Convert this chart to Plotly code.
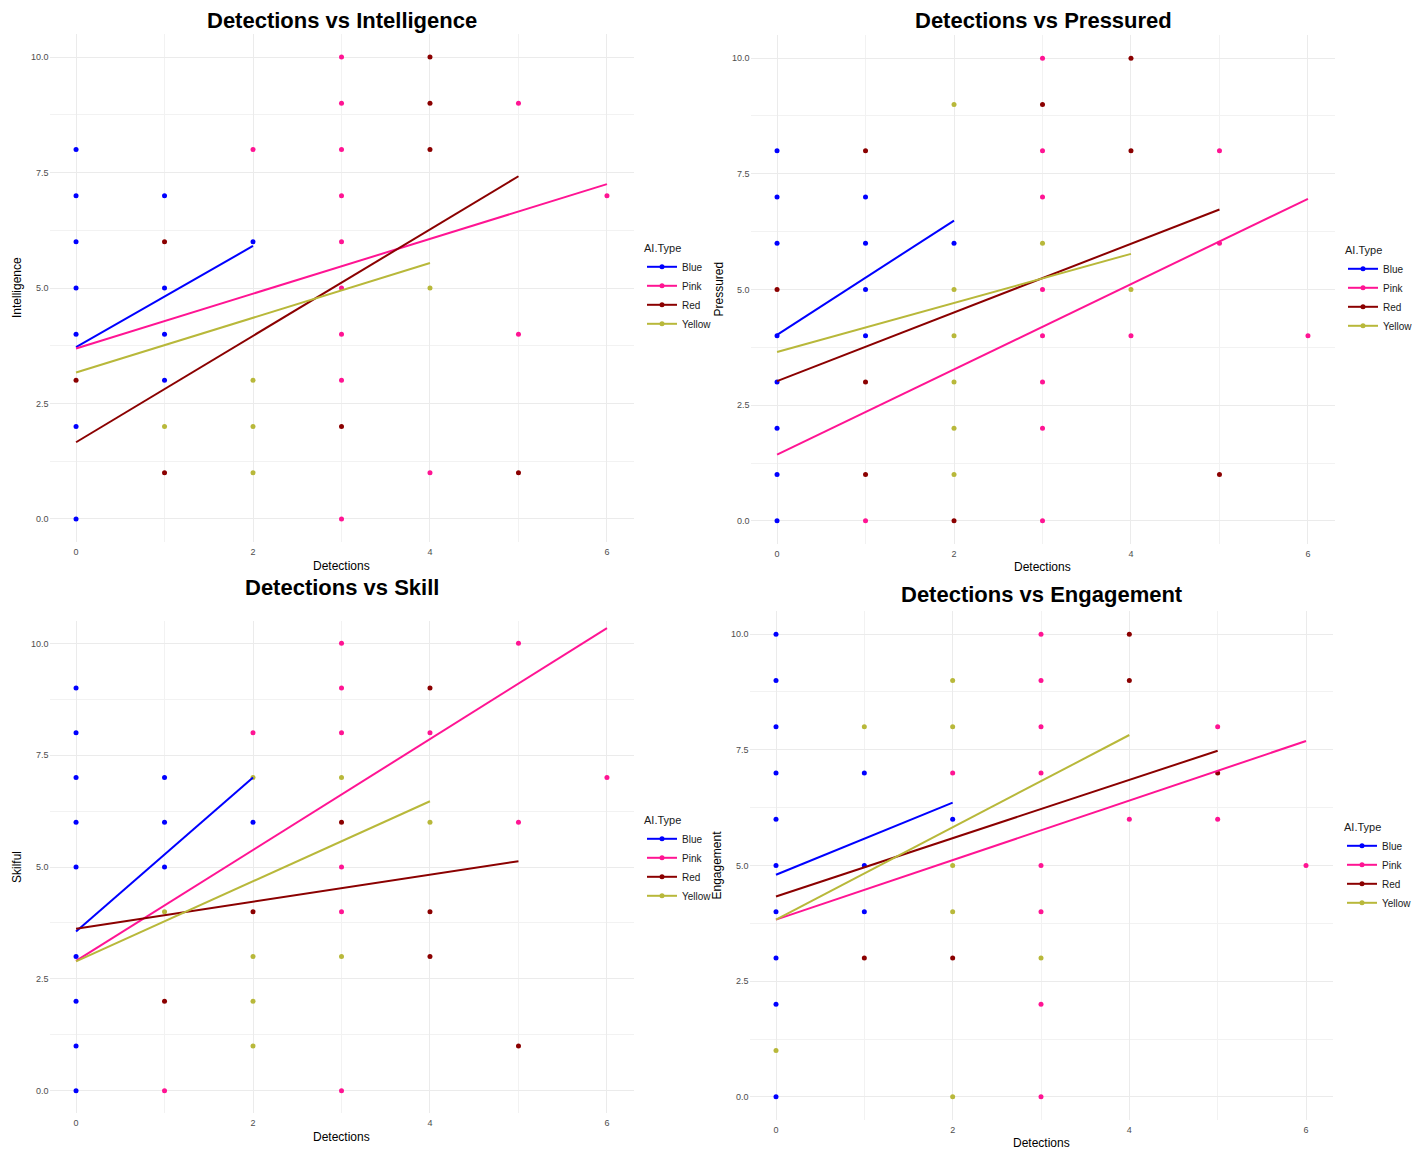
import plotly.graph_objects as go

GROUPS = ["Blue", "Pink", "Red", "Yellow"]
COLORS = {"Blue": "#0000FF", "Pink": "#FF1493", "Red": "#8B0000", "Yellow": "#B8B83A"}

# ---- Detections vs Intelligence ----
intel_x = [0,0,0,0,0,0,0,1,1,1,1,2,
           0,1,1,3,4,4,4,5,
           1,2,2,2,4,
           2,3,3,3,3,3,3,3,3,3,4,5,5,6]
intel_y = [8,7,6,5,4,2,0,7,5,4,3,6,
           3,6,1,2,10,9,8,1,
           2,3,2,1,5,
           8,10,9,8,7,6,5,4,3,0,1,9,4,7]
intel_type = ["Blue"]*12 + ["Red"]*8 + ["Yellow"]*5 + ["Pink"]*14

# ---- Detections vs Pressured ----
press_x = [0,0,0,0,0,0,0,0,1,1,1,1,2,
           0,1,1,1,2,3,4,4,5,
           2,2,2,2,2,2,3,4,
           1,3,3,3,3,3,3,3,3,4,5,5,6]
press_y = [8,7,6,4,3,2,1,0,7,6,5,4,6,
           5,8,3,1,0,9,10,8,1,
           9,5,4,3,2,1,6,5,
           0,10,8,7,5,4,3,2,0,4,8,6,4]
press_type = ["Blue"]*13 + ["Red"]*9 + ["Yellow"]*8 + ["Pink"]*13

# ---- Detections vs Skill ----
skill_x = [0,0,0,0,0,0,0,0,0,1,1,1,2,
           1,2,3,4,4,4,5,
           1,2,2,2,2,3,3,4,
           1,2,3,3,3,3,3,3,4,5,5,6]
skill_y = [9,8,7,6,5,3,2,1,0,7,6,5,6,
           2,4,6,9,4,3,1,
           4,7,3,2,1,7,3,6,
           0,8,10,9,8,5,4,0,8,10,6,7]
skill_type = ["Blue"]*13 + ["Red"]*7 + ["Yellow"]*8 + ["Pink"]*12

# ---- Detections vs Engagement ----
engage_x = [0,0,0,0,0,0,0,0,0,0,1,1,1,2,
            1,2,4,4,5,
            0,1,2,2,2,2,2,3,
            2,3,3,3,3,3,3,3,3,4,5,5,6]
engage_y = [10,9,8,7,6,5,4,3,2,0,7,5,4,6,
            3,3,10,9,7,
            1,8,9,8,5,4,0,3,
            7,10,9,8,7,5,4,2,0,6,8,6,5]
engage_type = ["Blue"]*14 + ["Red"]*5 + ["Yellow"]*8 + ["Pink"]*13

# ---- fitted trend lines (order: Blue, Pink, Red, Yellow) ----
fit_x_start = [0, 0, 0, 0]
fit_x_end = [2, 6, 5, 4]
intel_fit_start = [3.72, 3.69, 1.66, 3.17]
intel_fit_end = [5.91, 7.25, 7.42, 5.54]
press_fit_start = [4.02, 1.43, 3.02, 3.65]
press_fit_end = [6.49, 6.96, 6.73, 5.77]
skill_fit_start = [3.56, 2.90, 3.62, 2.89]
skill_fit_end = [7.00, 10.34, 5.13, 6.47]
engage_fit_start = [4.80, 3.83, 4.33, 3.83]
engage_fit_end = [6.36, 7.69, 7.48, 7.82]

y_ticks = [0, 2.5, 5, 7.5, 10]
x_ticks = [0, 2, 4, 6]

W, H = 1420, 1150
OFF = 8  # page body margin
FONT = "Liberation Sans, Arial, sans-serif"


def fx(px):
    return (px - OFF) / W


def fy(py):
    return 1 - (py - OFF) / H


panels = [
    dict(title="Detections vs Intelligence", ylabel="Intelligence", x=intel_x, y=intel_y, t=intel_type,
         fs=intel_fit_start, fe=intel_fit_end,
         px=(49.5, 633.5), py=(34, 542), title_xy=(342, 20.5), xlab_y=566, ylab_x=17,
         leg=(642, 238)),
    dict(title="Detections vs Pressured", ylabel="Pressured", x=press_x, y=press_y, t=press_type,
         fs=press_fit_start, fe=press_fit_end,
         px=(750.5, 1334.5), py=(35, 544), title_xy=(1043, 20.5), xlab_y=567, ylab_x=718,
         leg=(1343, 240)),
    dict(title="Detections vs Skill", ylabel="Skilful", x=skill_x, y=skill_y, t=skill_type,
         fs=skill_fit_start, fe=skill_fit_end,
         px=(49.5, 633.5), py=(621, 1113), title_xy=(342, 587), xlab_y=1137, ylab_x=17,
         leg=(642, 810)),
    dict(title="Detections vs Engagement", ylabel="Engagement", x=engage_x, y=engage_y, t=engage_type,
         fs=engage_fit_start, fe=engage_fit_end,
         px=(749.5, 1332.5), py=(611, 1120), title_xy=(1042, 594), xlab_y=1143, ylab_x=716,
         leg=(1342, 817)),
]

fig = go.Figure()
annotations = []
layout_extra = {}

for i, p in enumerate(panels):
    n = i + 1
    xa = "x" if n == 1 else f"x{n}"
    ya = "y" if n == 1 else f"y{n}"
    leg = "legend" if n == 1 else f"legend{n}"
    for gi, g in enumerate(GROUPS):
        xs = [xv for xv, tv in zip(p["x"], p["t"]) if tv == g]
        ys = [yv for yv, tv in zip(p["y"], p["t"]) if tv == g]
        fig.add_trace(go.Scatter(x=xs, y=ys, mode="markers", xaxis=xa, yaxis=ya,
                                 marker=dict(color=COLORS[g], size=5), showlegend=False,
                                 hoverinfo="x+y"))
    for gi, g in enumerate(GROUPS):
        fig.add_trace(go.Scatter(x=[fit_x_start[gi], fit_x_end[gi]], y=[p["fs"][gi], p["fe"][gi]],
                                 mode="lines", xaxis=xa, yaxis=ya,
                                 line=dict(color=COLORS[g], width=2), showlegend=False))
    for gi, g in enumerate(GROUPS):
        fig.add_trace(go.Scatter(x=[None], y=[None], mode="lines+markers", xaxis=xa, yaxis=ya,
                                 name=g, legend=leg,
                                 line=dict(color=COLORS[g], width=2),
                                 marker=dict(color=COLORS[g], size=5)))
    x0, x1 = p["px"]
    y0, y1 = p["py"]
    axis_common = dict(showgrid=True, gridcolor="#EBEBEB", gridwidth=1, zeroline=False,
                       showline=False, ticks="", tickfont=dict(size=9, color="#4D4D4D", family=FONT))
    layout_extra["xaxis" if n == 1 else f"xaxis{n}"] = dict(
        domain=[fx(x0), fx(x1)], range=[-0.3, 6.3], tickvals=x_ticks, anchor=ya,
        minor=dict(showgrid=True, gridcolor="#F2F2F2", gridwidth=0.8, tickvals=[1, 3, 5]),
        ticklabelstandoff=3, **axis_common)
    layout_extra["yaxis" if n == 1 else f"yaxis{n}"] = dict(
        domain=[fy(y1), fy(y0)], range=[-0.5, 10.5], tickvals=y_ticks,
        tickformat=".1f", anchor=xa,
        minor=dict(showgrid=True, gridcolor="#F2F2F2", gridwidth=0.8, tickvals=[1.25, 3.75, 6.25, 8.75]),
        **axis_common)
    layout_extra[leg] = dict(
        x=fx(p["leg"][0]), y=fy(p["leg"][1]), xanchor="left", yanchor="top",
        title=dict(text="AI.Type", font=dict(size=11, color="#1A1A1A", family=FONT)),
        font=dict(size=10, color="#1A1A1A", family=FONT), bgcolor="rgba(0,0,0,0)",
        tracegroupgap=0, itemwidth=30)
    tx, ty = p["title_xy"]
    annotations.append(dict(text=f"<b>{p['title']}</b>", x=fx(tx), y=fy(ty), xref="paper", yref="paper",
                            showarrow=False, xanchor="center", yanchor="middle",
                            font=dict(size=22, color="black", family=FONT)))
    annotations.append(dict(text="Detections", x=fx((x0 + x1) / 2), y=fy(p["xlab_y"]),
                            xref="paper", yref="paper", showarrow=False, xanchor="center", yanchor="middle",
                            font=dict(size=12, color="black", family=FONT)))
    annotations.append(dict(text=p["ylabel"], x=fx(p["ylab_x"]), y=fy((y0 + y1) / 2),
                            xref="paper", yref="paper", showarrow=False, xanchor="center", yanchor="middle",
                            textangle=-90, font=dict(size=12, color="black", family=FONT)))

fig.update_layout(width=W, height=H, margin=dict(l=0, r=0, t=0, b=0),
                  paper_bgcolor="white", plot_bgcolor="white",
                  font=dict(family=FONT), annotations=annotations, **layout_extra)

fig.write_html("out.html")
